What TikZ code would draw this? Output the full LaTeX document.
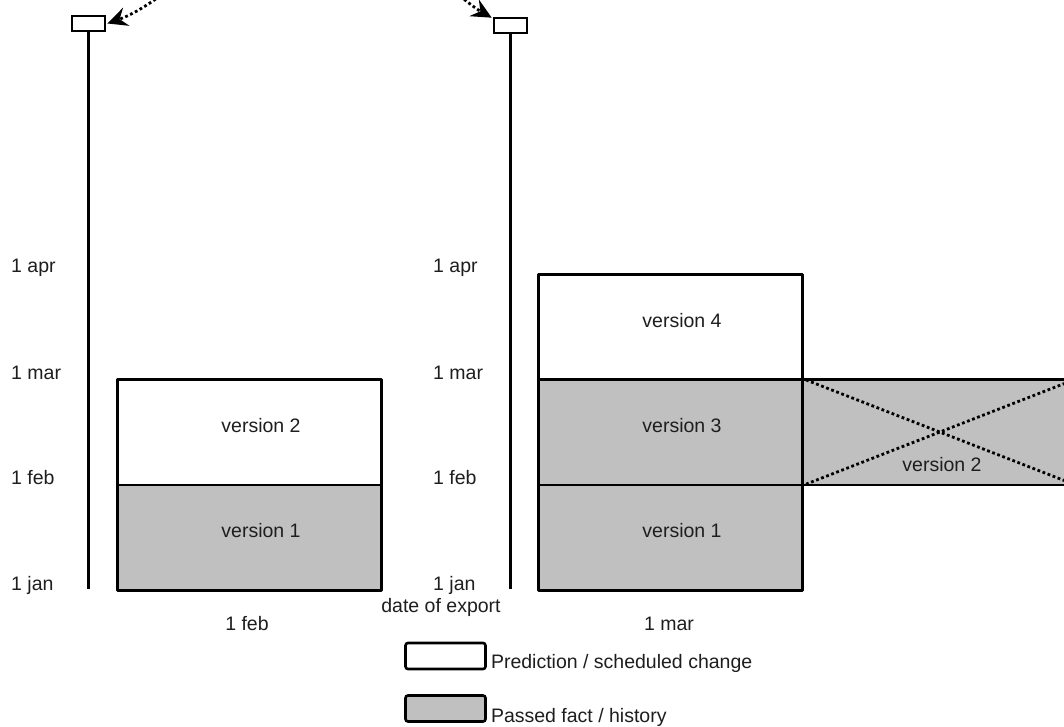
\documentclass[tikz,border=0pt]{standalone}
\usepackage{fontspec}
\setmainfont{Liberation Sans}
\usetikzlibrary{arrows.meta}
\definecolor{histgray}{RGB}{192,192,192}
\definecolor{txt}{RGB}{30,30,30}
\begin{document}
\begin{tikzpicture}[x=1pt,y=-1pt,
  every node/.style={font=\fontsize{19.5}{22}\selectfont, inner sep=0pt, text=txt},
  box/.style={draw, line width=2.6pt, line join=round, minimum width=264pt, minimum height=105.5pt, anchor=north west},
  future/.style={box, fill=white},
  past/.style={box, fill=histgray},
  ax/.style={line width=2.6pt},
  marker/.style={draw, line width=2.6pt, fill=white, minimum width=33pt, minimum height=15pt},
  dots/.style={line width=2.8pt, dash pattern=on 2.8pt off 2.6pt},
  tip/.style={-{Stealth[length=20pt,width=19pt,inset=7pt]}},
  legbox/.style={draw, line width=2.6pt, rounded corners=2.5pt, minimum width=80pt, minimum height=26pt},
  lab/.style={anchor=west}
]
\clip (0,0) rectangle (1064,727);
\fill[white] (0,0) rectangle (1064,727);

% ---------- left panel ----------
\node[marker] (m1) at (88.5,23.5) {};
\coordinate (a1end) at (88.5,589);
\draw[ax] (m1.south) -- (a1end);
\node[lab] (l1apr) at (11,268) {1 apr};
\node[lab] (l1mar) at (11,373) {1 mar};
\node[lab] (l1feb) at (11,478) {1 feb};
\node[lab] (l1jan) at (11,585) {1 jan};

\node[future] (b1v2) at (116,378) {};
\node[past]   (b1v1) at (116,483.5) {};
\node (t1v2) at (261,426) {version 2};
\node (t1v1) at (261,531) {version 1};
\node (x1) at (247,624) {1 feb};

% ---------- right panel ----------
\node[marker] (m2) at (510.5,25.5) {};
\coordinate (a2end) at (510.5,589);
\draw[ax] (m2.south) -- (a2end);
\node[lab] (r1apr) at (433,268) {1 apr};
\node[lab] (r1mar) at (433,373) {1 mar};
\node[lab] (r1feb) at (433,478) {1 feb};
\node[lab] (r1jan) at (433,585) {1 jan};
\node (doe) at (441,607) {date of export};

\node[future] (b2v4) at (537,273) {};
\node[past]   (b2v3) at (537,378) {};
\node[past]   (b2v1) at (537,483.5) {};
\node[past, minimum width=275pt] (b2x) at (801,378) {};
\draw[dots] (b2x.north west) -- (b2x.south east);
\draw[dots] (b2x.south west) -- (b2x.north east);
\node (t2v4) at (682,321) {version 4};
\node (t2v3) at (682,426) {version 3};
\node (t2v1) at (682,531) {version 1};
\node (t2v2) at (942,465) {version 2};
\node (x2) at (669,624) {1 mar};

% ---------- dotted arrows from above ----------
\coordinate (s1) at (160,-4);
\coordinate (s2) at (460,-4);
\draw[dots, tip] (s1) to[bend left=8] ([xshift=1pt]m1.east);
\draw[dots, tip] (s2) to[bend right=5] ([xshift=-1pt,yshift=-1pt]m2.north west);

% ---------- legend ----------
\node[legbox, fill=white] (lg1) at (445.5,656) {};
\node[lab] (lt1) at ([xshift=4pt,yshift=-7pt]lg1.east) {Prediction / scheduled change};
\node[legbox, fill=histgray] (lg2) at (445.5,708.5) {};
\node[lab] (lt2) at ([xshift=4pt,yshift=-8.5pt]lg2.east) {Passed fact / history};
\end{tikzpicture}
\end{document}
